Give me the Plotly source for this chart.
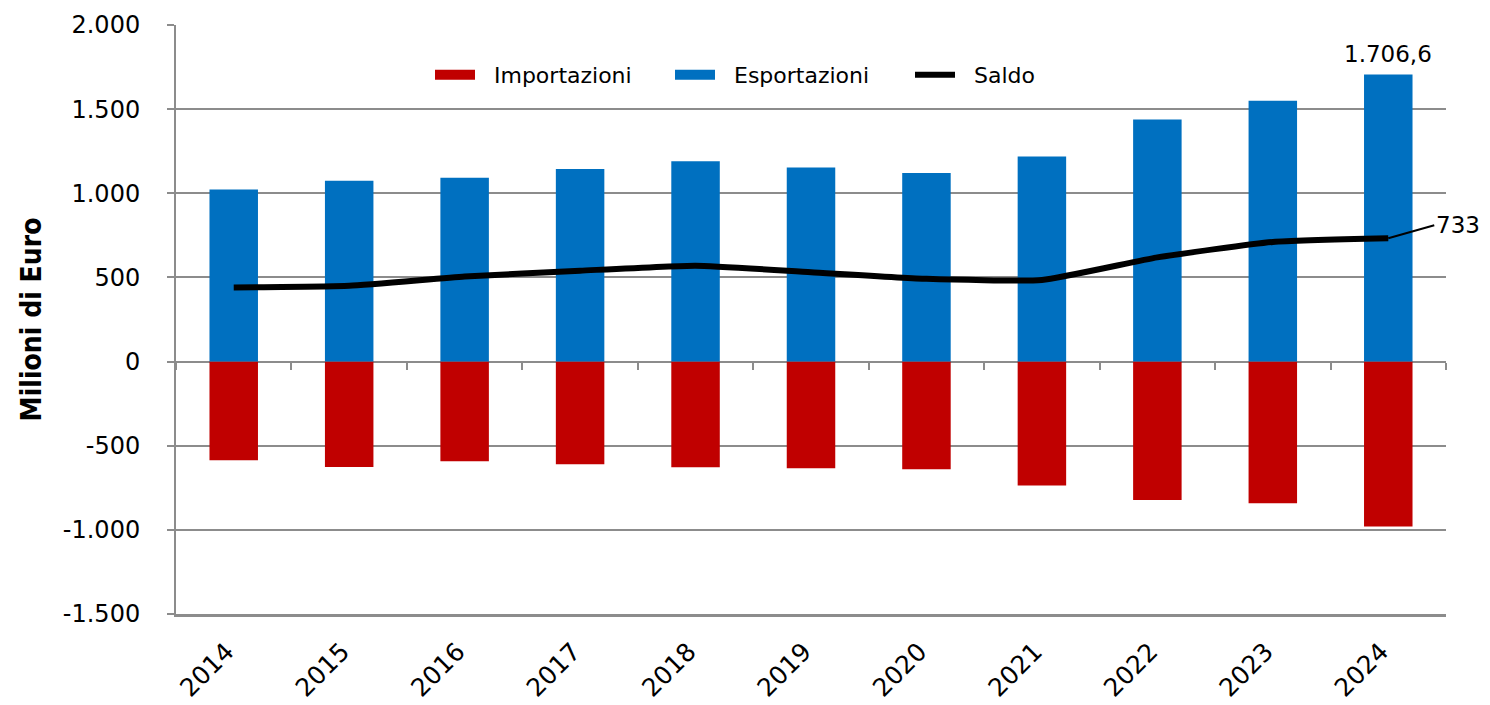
import plotly.graph_objects as go

years = ["2014", "2015", "2016", "2017", "2018", "2019", "2020", "2021", "2022", "2023", "2024"]
importazioni = [-586, -626, -592, -610, -628, -634, -640, -737, -822, -842, -980]
esportazioni = [1022, 1074, 1092, 1145, 1191, 1153, 1121, 1218, 1439, 1550, 1706.6]
saldo = [440, 450, 505, 540, 570, 531, 492, 485, 619, 711, 733]

y_tickvals = [-1500, -1000, -500, 0, 500, 1000, 1500, 2000]
y_ticktext = ["-1.500", "-1.000", "-500", "0", "500", "1.000", "1.500", "2.000"]

RED = "#C00000"
BLUE = "#0070C0"
GRID = "#8C8C8C"
NB = "\u00a0\u00a0"

fig = go.Figure()
fig.add_trace(go.Bar(x=years, y=importazioni, name="Importazioni", showlegend=False,
                     marker=dict(color=RED, line=dict(width=0))))
fig.add_trace(go.Bar(x=years, y=esportazioni, name="Esportazioni", showlegend=False,
                     marker=dict(color=BLUE, line=dict(width=0))))
fig.add_trace(go.Scatter(x=years, y=saldo, name="Saldo", mode="lines", showlegend=False,
                         line=dict(color="black", width=6, shape="spline", smoothing=0.45)))
# legend-only entries (wide swatches like the original)
for nm, col, w in [("Importazioni", RED, 11), ("Esportazioni", BLUE, 11), ("Saldo", "black", 6)]:
    fig.add_trace(go.Scatter(x=[None], y=[None], name=NB + nm, mode="lines",
                             line=dict(color=col, width=w), showlegend=True, hoverinfo="skip"))
# invisible trace on a second x axis that draws the tick marks on the zero line
fig.add_trace(go.Scatter(x=years, y=[0] * len(years), xaxis="x2", mode="markers",
                         marker=dict(opacity=0), showlegend=False, hoverinfo="skip"))

last = len(years) - 1
fig.add_annotation(x=last, y=esportazioni[-1], text="1.706,6", showarrow=False,
                   yanchor="bottom", yshift=5, font=dict(size=23, color="black"))
fig.add_annotation(x=last, y=saldo[-1], text=str(saldo[-1]), showarrow=True,
                   arrowhead=0, arrowwidth=2, arrowcolor="black", ax=46, ay=-13,
                   xanchor="left", font=dict(size=23, color="black"))

xrange = [-0.5, len(years) - 0.5]

fig.update_layout(
    width=1490, height=705,
    margin=dict(l=168, r=52, t=17, b=99, autoexpand=False),
    plot_bgcolor="white", paper_bgcolor="white",
    barmode="relative", bargap=0.58,
    font=dict(family="DejaVu Sans", color="black"),
    showlegend=True,
    legend=dict(orientation="h", x=0.2, xanchor="left", y=0.915, yanchor="middle",
                font=dict(family="DejaVu Sans", size=22), bgcolor="rgba(0,0,0,0)",
                traceorder="normal", itemwidth=40, entrywidth=185),
    xaxis=dict(type="category", categoryorder="array", categoryarray=years, range=xrange,
               showgrid=False, showline=True, linecolor=GRID, linewidth=3, automargin=False,
               ticks="", tickangle=-45, ticklabelstandoff=10, ticklabelshift=-7,
               tickfont=dict(family="DejaVu Sans", size=25)),
    xaxis2=dict(type="category", categoryorder="array", categoryarray=years, range=xrange,
                overlaying="x", anchor="free", position=1500 / 3500,
                side="bottom", showgrid=False, showline=False, showticklabels=False,
                ticks="outside", tickson="boundaries", ticklen=7, tickwidth=2, tickcolor=GRID),
    yaxis=dict(range=[-1500, 2000], tickvals=y_tickvals, ticktext=y_ticktext, automargin=False,
               showgrid=True, gridcolor=GRID, gridwidth=2,
               zeroline=True, zerolinecolor=GRID, zerolinewidth=2,
               showline=True, linecolor=GRID, linewidth=2,
               ticks="outside", ticklen=7, tickwidth=2, tickcolor=GRID,
               ticklabelstandoff=22,
               tickfont=dict(family="DejaVu Sans", size=24),
               title=dict(text="<b>Milioni di Euro</b>", font=dict(family="DejaVu Sans Condensed", size=28),
                          standoff=13)),
)

fig.write_html("out.html")
